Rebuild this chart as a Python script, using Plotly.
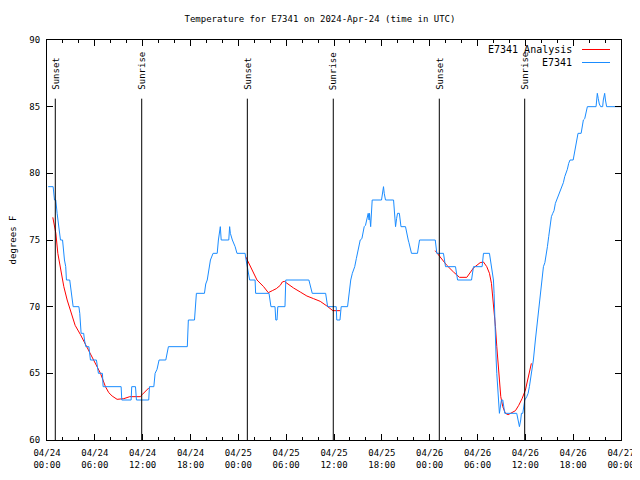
import pandas as pd
import plotly.graph_objects as go

BASE = pd.Timestamp("2024-04-24 00:00")

# Observed series E7341 (hours after 04/24 00:00 UTC, degrees F)
obs_hours = [0.15, 0.77, 0.94, 1.1, 1.27, 1.45, 1.69, 1.95, 2.1, 2.19, 2.35, 2.44, 2.85, 2.95, 3.1, 3.28,
             4.0, 4.11, 4.28, 4.6, 4.7, 4.87, 5.25, 5.37, 5.45, 6.2, 6.29, 6.45, 6.95, 7.04, 9.3, 9.38,
             10.55, 10.63, 11.1, 11.22, 12.76, 12.85, 13.4, 13.56, 13.8, 14.06, 14.9, 15.0, 15.23, 17.6,
             17.73, 18.5, 18.74, 19.75, 19.91, 20.1, 20.32, 20.5, 20.83, 21.35, 21.5, 21.74, 21.85, 22.0,
             22.8, 22.91, 23.0, 23.25, 23.45, 23.6, 23.83, 24.85, 24.92, 25.09, 25.25, 25.42, 26.1, 26.17,
             27.85, 28.0, 28.09, 28.6, 28.7, 28.85, 28.95, 29.85, 29.95, 32.85, 33.1, 33.27, 34.95, 35.2,
             36.28, 36.35, 36.75, 36.9, 37.7, 37.79, 37.95, 38.1, 38.3, 38.45, 38.6, 38.8, 38.96, 39.1,
             39.29, 39.5, 39.6, 39.79, 39.95, 40.1, 40.29, 40.4, 40.45, 40.6, 40.7, 40.79, 41.96, 42.05,
             42.21, 42.3, 42.46, 43.47, 43.6, 43.72, 43.85, 43.97, 44.2, 44.3, 44.4, 44.97, 45.1, 45.31,
             45.4, 45.55, 45.72, 46.47, 46.6, 46.73, 48.7, 48.9, 49.73, 49.99, 51.24, 51.5, 53.25, 53.5,
             54.58, 54.75, 55.5, 55.75, 55.84, 56.0, 56.08, 56.17, 56.25, 56.34, 56.42, 56.5, 56.59,
             56.75, 57.0, 57.17, 57.42, 58.92, 59.09, 59.26, 59.42, 59.51, 59.68, 59.93, 60.18, 60.35,
             60.51, 60.76, 61.01, 61.26, 61.51, 61.76, 61.85, 62.0, 62.18, 62.27, 62.45, 62.6, 62.77,
             62.93, 63.1, 63.27, 63.44, 63.6, 63.77, 63.94, 64.1, 64.27, 64.44, 64.61, 64.77, 64.94,
             65.11, 65.27, 65.44, 65.61, 66.0, 66.11, 66.28, 66.45, 66.61, 67.0, 67.11, 67.28, 67.45,
             67.62, 67.78, 68.87, 69.03, 69.15, 69.28, 69.45, 69.7, 69.78, 69.95, 70.05, 70.2, 72.0]
obs_temps = [79, 79, 78, 78, 77, 76, 75, 75, 74, 73.5, 73, 72, 72, 71.5, 71, 70,
             70, 69.5, 68, 68, 67.5, 67, 67, 66.5, 66, 66, 65.5, 65, 65, 64, 64, 63,
             63, 64, 64, 63, 63, 64, 64, 65, 65.3, 66, 66, 66.3, 67, 67,
             69, 69, 71, 71, 71.7, 72, 73, 73.5, 74, 74, 75, 76, 75, 75,
             75, 76, 75.5, 75, 74.7, 74.5, 74, 74, 73.7, 73, 72.7, 72, 72, 71,
             71, 70.5, 70, 70, 69, 69, 70, 70, 72, 72, 71.5, 71, 71, 70,
             70, 69, 69, 70, 70, 70.5, 71.5, 72, 72.5, 72.75, 73, 73.6, 74, 74.5,
             75, 75.1, 75.5, 76, 76.1, 76.6, 77, 76.5, 77, 76, 77.5, 78, 78, 78.5,
             79, 78.5, 78, 78, 77, 76, 76.6, 77, 77, 76.5, 76, 76, 75.5, 75,
             74.8, 74.5, 74, 74, 74.5, 75, 75, 74, 74, 73, 73, 72, 72, 73,
             73, 74, 74, 73, 73, 72, 71, 68.5, 67, 66, 65, 64, 63,
             62, 63, 63, 62, 62, 61.5, 61, 61.5, 62, 62, 63, 63.25, 63.5,
             64, 65, 66, 67.5, 68.75, 70.25, 70.5, 71.5, 72.5, 73, 73.3, 73.75, 74.5,
             75.25, 76, 76.75, 77, 77.2, 77.75, 78, 78.2, 78.5, 78.75, 79, 79.3, 79.75,
             80, 80.3, 80.75, 81, 81, 81.4, 82, 82.6, 83, 83, 83.5, 84, 84.1,
             84.5, 85, 85, 86, 85.6, 85.2, 85, 85, 85.5, 86, 85.5, 85, 85]

# Analysis series (None = gap)
ana_hours = [0.73, 1.11, 1.36, 1.69, 2.11, 2.53, 3.03, 3.53, 4.2, 5.03, 5.87, 6.71, 7.33, 7.75, 8.17,
             8.79, 9.63, 10.38, 11.72, 11.93, 12.76, 18.0,
             24.92, 25.5, 26.34, 27.17, 27.76, 28.26, 28.76, 29.26, 29.51, 29.76, 30.1, 30.93, 31.77,
             32.6, 33.44, 34.27, 35.11, 35.86, 36.78, 42.0,
             48.69, 49.32, 50.15, 50.99, 51.74, 52.66, 53.49, 54.33, 54.75, 55.16, 55.5, 55.75, 55.92,
             56.08, 56.25, 56.42, 56.59, 56.75, 56.92, 57.17, 57.5, 57.84, 58.34, 58.76, 59.17, 59.59,
             60.01, 60.43, 60.76]
ana_temps = [76.7, 75.5, 74, 72.75, 71.5, 70.5, 69.5, 68.6, 67.9, 66.9, 65.9, 65, 64, 63.55, 63.3,
             63.05, 63.1, 63.25, 63.25, 63.4, 63.9, None,
             73.75, 73, 72, 71.5, 71.05, 71.2, 71.35, 71.6, 71.85, 71.9, 71.75, 71.4, 71.1,
             70.8, 70.6, 70.4, 70.05, 69.7, 69.7, None,
             74.2, 73.75, 73.1, 72.6, 72.2, 72.2, 72.9, 73.3, 73.35, 73, 72.5, 71.75, 70.75,
             69.6, 68.5, 67, 65.75, 64, 63.25, 62.5, 62, 61.9, 62.05, 62.2, 62.6, 63.1,
             63.75, 64.75, 65.75]

# Sun events
sun_hours = [1.04, 11.88, 25.13, 35.91, 49.21, 59.92]
sun_labels = ["Sunset", "Sunrise", "Sunset", "Sunrise", "Sunset", "Sunrise"]
sun_line_top = 85.6
sun_label_base = 86.1

def to_time(hours):
    return [BASE + pd.Timedelta(hours=h) for h in hours]

FONT = "DejaVu Sans Mono"
BLUE = "#1a8cff"
RED = "#ff0000"

# the page body has an 8px margin, so the figure is 8px smaller and margins are reduced by 8px
W, H = 632, 472
ML, MR, MT, MB = 39, 19, 32, 40
PW, PH = W - ML - MR, H - MT - MB

fig = go.Figure()
fig.add_trace(go.Scatter(x=to_time(ana_hours), y=ana_temps, mode="lines", name="E7341 Analysis",
                         line=dict(color=RED, width=1), connectgaps=False))
fig.add_trace(go.Scatter(x=to_time(obs_hours), y=obs_temps, mode="lines", name="E7341",
                         line=dict(color=BLUE, width=1)))

for t, lab in zip(to_time(sun_hours), sun_labels):
    fig.add_shape(type="line", xref="x", yref="y", x0=t, x1=t, y0=60, y1=sun_line_top,
                  line=dict(color="black", width=1))
    fig.add_annotation(x=t, y=sun_label_base, xref="x", yref="y", text=lab, textangle=-90,
                       showarrow=False, yanchor="bottom", xanchor="center",
                       font=dict(family=FONT, size=9, color="black"))

# manual gnuplot-style key (pixel positions relative to plot area)
key = [("E7341 Analysis", RED, 9.5), ("E7341", BLUE, 22.5)]
for text, col, ypix in key:
    yp = 1 - ypix / PH
    fig.add_annotation(x=527 / PW, y=yp, xref="paper", yref="paper", text=text,
                       showarrow=False, xanchor="right", yanchor="middle",
                       font=dict(family=FONT, size=10, color="black"))
    fig.add_shape(type="line", xref="paper", yref="paper", x0=535 / PW, x1=563 / PW,
                  y0=yp, y1=yp, line=dict(color=col, width=1))

fig.update_layout(
    width=W, height=H,
    margin=dict(l=ML, r=MR, t=MT, b=MB, autoexpand=False),
    paper_bgcolor="white", plot_bgcolor="white",
    showlegend=False,
    title=dict(text="Temperature for E7341 on 2024-Apr-24 (time in UTC)", x=(320 - 8) / W,
               xanchor="center", y=1 - 11 / H, yanchor="middle",
               font=dict(family=FONT, size=9, color="black")),
    font=dict(family=FONT, size=9, color="black"),
)
fig.update_xaxes(
    type="date", automargin=False,
    range=[BASE, BASE + pd.Timedelta(hours=72)],
    dtick=6 * 3600 * 1000, tick0=BASE,
    tickformat="%m/%d<br>%H:%M",
    ticks="inside", ticklen=6, tickcolor="black", ticklabelstandoff=4,
    minor=dict(dtick=2 * 3600 * 1000, ticks="inside", ticklen=3, tickcolor="black", showgrid=False),
    showline=True, linecolor="black", linewidth=1, mirror="allticks",
    showgrid=False, zeroline=False,
    tickfont=dict(family=FONT, size=9, color="black"),
)
fig.update_yaxes(
    range=[60, 90], dtick=5, automargin=False,
    ticks="inside", ticklen=6, tickcolor="black", ticklabelstandoff=4,
    showline=True, linecolor="black", linewidth=1, mirror="allticks",
    showgrid=False, zeroline=False,
    title=dict(text="degrees F", font=dict(family=FONT, size=9, color="black"), standoff=16),
    tickfont=dict(family=FONT, size=9, color="black"),
)

fig.write_html("out.html")
